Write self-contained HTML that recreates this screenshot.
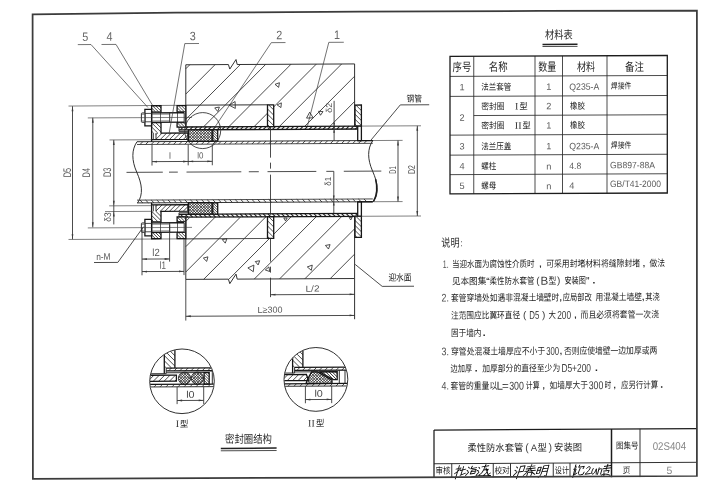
<!DOCTYPE html>
<html lang="zh"><head><meta charset="utf-8"><title>柔性防水套管（A型）安装图 02S404</title>
<style>html,body{margin:0;padding:0;background:#fff;}body{width:706px;height:484px;overflow:hidden;font-family:"Liberation Sans","Noto Sans CJK SC",sans-serif;}svg{display:block;filter:grayscale(1) blur(0.28px);}</style></head>
<body>
<svg width="706" height="484" viewBox="0 0 706 484" font-family="'Liberation Sans', 'Noto Sans CJK SC', sans-serif" shape-rendering="geometricPrecision">
<g transform="matrix(1,-0.005,0,1,0,1)">
<line x1="68.5" y1="105.4" x2="267.5" y2="105.1" stroke="#3c3c3c" stroke-width="0.65"/>
<line x1="68.5" y1="238.8" x2="267.5" y2="238.8" stroke="#3c3c3c" stroke-width="0.65"/>
<path d="M185.8 68.7L189.8 64.7M185.8 94L215.1 64.7M185.8 119.3L240.4 64.7M203.8 126.6L265.7 64.7M229.1 126.6L291 64.7M254.4 126.6L316.3 64.7M279.7 126.6L341.6 64.7M305 126.6L354.6 77M330.3 126.6L354.6 102.3" fill="none" stroke="#2c2c2c" stroke-width="0.85"/>
<path d="M185.8 126.6 L185.8 64.7 L228.4 64.7 L229.8 69.2 L236 59.7 L237.2 64.7 L354.6 64.7 L354.6 126.6" fill="none" stroke="#262626" stroke-width="0.95"/>
<path d="M185.8 221.3L189.7 217.4M185.8 246.6L215 217.4M185.8 271.9L240.3 217.4M203.7 279.3L265.6 217.4M229 279.3L290.9 217.4M254.3 279.3L316.2 217.4M279.6 279.3L341.5 217.4M304.9 279.3L354.6 229.6M330.2 279.3L354.6 254.9" fill="none" stroke="#2c2c2c" stroke-width="0.85"/>
<path d="M185.8 217.4 L185.8 279.3 L228.4 279.3 L229.8 283.8 L236 274.3 L237.2 279.3 L354.6 279.3 L354.6 217.4" fill="none" stroke="#262626" stroke-width="0.95"/>
<line x1="185.8" y1="105.1" x2="267.5" y2="105.1" stroke="#3c3c3c" stroke-width="0.65"/>
<line x1="185.8" y1="238.8" x2="267.5" y2="238.8" stroke="#3c3c3c" stroke-width="0.65"/>
<rect x="137" y="141.4" width="235.8" height="2.8" fill="#fff" stroke="none" stroke-width="0"/>
<path d="M140 144.2L142.8 141.4M145.6 144.2L148.4 141.4M151.2 144.2L154 141.4M156.8 144.2L159.6 141.4M162.4 144.2L165.2 141.4M168 144.2L170.8 141.4M173.6 144.2L176.4 141.4M179.2 144.2L182 141.4M184.8 144.2L187.6 141.4M190.4 144.2L193.2 141.4M196 144.2L198.8 141.4M201.6 144.2L204.4 141.4M207.2 144.2L210 141.4M212.8 144.2L215.6 141.4M218.4 144.2L221.2 141.4M224 144.2L226.8 141.4M229.6 144.2L232.4 141.4M235.2 144.2L238 141.4M240.8 144.2L243.6 141.4M246.4 144.2L249.2 141.4M252 144.2L254.8 141.4M257.6 144.2L260.4 141.4M263.2 144.2L266 141.4M268.8 144.2L271.6 141.4M274.4 144.2L277.2 141.4M280 144.2L282.8 141.4M285.6 144.2L288.4 141.4M291.2 144.2L294 141.4M296.8 144.2L299.6 141.4M302.4 144.2L305.2 141.4M308 144.2L310.8 141.4M313.6 144.2L316.4 141.4M319.2 144.2L322 141.4M324.8 144.2L327.6 141.4M330.4 144.2L333.2 141.4M336 144.2L338.8 141.4M341.6 144.2L344.4 141.4M347.2 144.2L350 141.4M352.8 144.2L355.6 141.4M358.4 144.2L361.2 141.4M364 144.2L366.8 141.4" fill="none" stroke="#2c2c2c" stroke-width="0.9"/>
<line x1="137" y1="141.4" x2="372.8" y2="141.4" stroke="#262626" stroke-width="0.95"/>
<line x1="137" y1="144.2" x2="372.8" y2="144.2" stroke="#2c2c2c" stroke-width="0.85"/>
<rect x="179" y="126.9" width="181.2" height="2.9" fill="#fff" stroke="none" stroke-width="0"/>
<path d="M180.5 129.8L183.4 126.9M185.1 129.8L188 126.9M189.7 129.8L192.6 126.9M194.3 129.8L197.2 126.9M198.9 129.8L201.8 126.9M203.5 129.8L206.4 126.9M208.1 129.8L211 126.9M212.7 129.8L215.6 126.9M217.3 129.8L220.2 126.9M221.9 129.8L224.8 126.9M226.5 129.8L229.4 126.9M231.1 129.8L234 126.9M235.7 129.8L238.6 126.9M240.3 129.8L243.2 126.9M244.9 129.8L247.8 126.9M249.5 129.8L252.4 126.9M254.1 129.8L257 126.9M258.7 129.8L261.6 126.9M263.3 129.8L266.2 126.9M267.9 129.8L270.8 126.9M272.5 129.8L275.4 126.9M277.1 129.8L280 126.9M281.7 129.8L284.6 126.9M286.3 129.8L289.2 126.9M290.9 129.8L293.8 126.9M295.5 129.8L298.4 126.9M300.1 129.8L303 126.9M304.7 129.8L307.6 126.9M309.3 129.8L312.2 126.9M313.9 129.8L316.8 126.9M318.5 129.8L321.4 126.9M323.1 129.8L326 126.9M327.7 129.8L330.6 126.9M332.3 129.8L335.2 126.9M336.9 129.8L339.8 126.9M341.5 129.8L344.4 126.9M346.1 129.8L349 126.9M350.7 129.8L353.6 126.9M355.3 129.8L358.2 126.9" fill="none" stroke="#222" stroke-width="1.1"/>
<line x1="179" y1="126.9" x2="360.2" y2="126.9" stroke="#161616" stroke-width="1.3"/>
<line x1="179" y1="129.8" x2="360.2" y2="129.8" stroke="#161616" stroke-width="1.3"/>
<line x1="179" y1="131.3" x2="188.4" y2="131.3" stroke="#262626" stroke-width="0.95"/>
<line x1="179" y1="126.9" x2="179" y2="131.3" stroke="#262626" stroke-width="0.95"/>
<rect x="177.1" y="105.5" width="8.7" height="21.6" fill="#fff" stroke="none" stroke-width="0"/>
<path d="M177.1 110.6L178.1 111.6M177.1 107.5L181.2 111.6M178.2 105.5L184.3 111.6M181.3 105.5L185.8 110M184.4 105.5L185.8 106.9" fill="none" stroke="#2c2c2c" stroke-width="0.85"/>
<path d="M177.1 125.6L178.6 127.1M177.2 122.6L181.7 127.1M180.3 122.6L184.8 127.1M183.4 122.6L185.8 125" fill="none" stroke="#2c2c2c" stroke-width="0.85"/>
<rect x="177.1" y="105.5" width="8.7" height="21.6" fill="none" stroke="#161616" stroke-width="1.3"/>
<line x1="177.1" y1="111.6" x2="185.8" y2="111.6" stroke="#262626" stroke-width="0.95"/>
<line x1="177.1" y1="122.6" x2="185.8" y2="122.6" stroke="#262626" stroke-width="0.95"/>
<path d="M151.6 105.5 L161 105.5 L161 132.9 L188 132.9 L188 139.3 L151.6 139.3 Z" fill="#fff" stroke="none" stroke-width="0"/>
<path d="M151.6 110.8L152.4 111.6M151.6 107.7L155.5 111.6M152.5 105.5L158.6 111.6M155.6 105.5L161 110.9M158.7 105.5L161 107.8" fill="none" stroke="#2c2c2c" stroke-width="0.85"/>
<path d="M151.6 130.9L153.6 132.9M151.6 126.7L157.8 132.9M151.7 122.6L161 131.9M155.9 122.6L161 127.7M160.1 122.6L161 123.5" fill="none" stroke="#2c2c2c" stroke-width="0.85"/>
<path d="M156 134.4L157.5 132.9M156 139L162.1 132.9M160.3 139.3L166.7 132.9M164.9 139.3L171.3 132.9M169.5 139.3L175.9 132.9M174.1 139.3L180.5 132.9M178.7 139.3L185.1 132.9M183.3 139.3L188 134.6" fill="none" stroke="#2c2c2c" stroke-width="0.85"/>
<path d="M151.6 105.5 L161 105.5 L161 132.9 L188 132.9 L188 139.3 L151.6 139.3 Z" fill="none" stroke="#161616" stroke-width="1.3"/>
<line x1="151.6" y1="139.3" x2="151.6" y2="141.4" stroke="#161616" stroke-width="1.3"/>
<line x1="151.6" y1="111.6" x2="161" y2="111.6" stroke="#262626" stroke-width="0.95"/>
<line x1="151.6" y1="122.6" x2="161" y2="122.6" stroke="#262626" stroke-width="0.95"/>
<line x1="156" y1="139.3" x2="156" y2="132.9" stroke="#262626" stroke-width="0.95"/>
<line x1="153.4" y1="139.3" x2="153.4" y2="132.9" stroke="#2c2c2c" stroke-width="0.85"/>
<rect x="161" y="112.65" width="16.1" height="9.4" fill="#fff" stroke="none" stroke-width="0"/>
<line x1="151.6" y1="122.05" x2="184.2" y2="122.05" stroke="#161616" stroke-width="1.3"/>
<line x1="151.6" y1="112.65" x2="184.2" y2="112.65" stroke="#161616" stroke-width="1.3"/>
<line x1="184.2" y1="122.05" x2="184.2" y2="112.65" stroke="#262626" stroke-width="0.95"/>
<line x1="152.1" y1="120.75" x2="169.7" y2="120.75" stroke="#3c3c3c" stroke-width="0.65"/>
<line x1="152.1" y1="113.95" x2="169.7" y2="113.95" stroke="#3c3c3c" stroke-width="0.65"/>
<line x1="169.7" y1="122.05" x2="169.7" y2="112.65" stroke="#262626" stroke-width="0.95"/>
<rect x="144.9" y="109.05" width="6.7" height="16.6" fill="#fff" stroke="#161616" stroke-width="1.3"/>
<line x1="144.9" y1="121.55" x2="151.6" y2="121.55" stroke="#2c2c2c" stroke-width="0.85"/>
<line x1="144.9" y1="113.15" x2="151.6" y2="113.15" stroke="#2c2c2c" stroke-width="0.85"/>
<rect x="141.4" y="112.65" width="3.5" height="9.4" fill="#fff" stroke="#262626" stroke-width="0.95" rx="0.8"/>
<line x1="141.8" y1="120.75" x2="144.9" y2="120.75" stroke="#3c3c3c" stroke-width="0.65"/>
<line x1="141.8" y1="113.95" x2="144.9" y2="113.95" stroke="#3c3c3c" stroke-width="0.65"/>
<rect x="188.4" y="129.8" width="23.7" height="11.6" fill="#fff" stroke="none" stroke-width="0"/>
<path d="M188.4 130.4L189 129.8M188.4 133.15L191.75 129.8M188.4 135.9L194.5 129.8M188.4 138.65L197.25 129.8M188.4 141.4L200 129.8M191.15 141.4L202.75 129.8M193.9 141.4L205.5 129.8M196.65 141.4L208.25 129.8M199.4 141.4L211 129.8M202.15 141.4L212.1 131.45M204.9 141.4L212.1 134.2M207.65 141.4L212.1 136.95M210.4 141.4L212.1 139.7" fill="none" stroke="#2c2c2c" stroke-width="0.85"/>
<path d="M188.4 140.8L189 141.4M188.4 138.05L191.75 141.4M188.4 135.3L194.5 141.4M188.4 132.55L197.25 141.4M188.4 129.8L200 141.4M191.15 129.8L202.75 141.4M193.9 129.8L205.5 141.4M196.65 129.8L208.25 141.4M199.4 129.8L211 141.4M202.15 129.8L212.1 139.75M204.9 129.8L212.1 137M207.65 129.8L212.1 134.25M210.4 129.8L212.1 131.5" fill="none" stroke="#2c2c2c" stroke-width="0.85"/>
<rect x="188.4" y="129.8" width="23.7" height="11.6" fill="none" stroke="#161616" stroke-width="1.3"/>
<rect x="212.8" y="129.8" width="4.9" height="11.3" fill="#fff" stroke="none" stroke-width="0"/>
<path d="M212.8 140.1L213.8 141.1M212.8 137.5L216.4 141.1M212.8 134.9L217.7 139.8M212.8 132.3L217.7 137.2M212.9 129.8L217.7 134.6M215.5 129.8L217.7 132" fill="none" stroke="#2c2c2c" stroke-width="0.85"/>
<rect x="212.8" y="129.8" width="4.9" height="11.3" fill="none" stroke="#161616" stroke-width="1.3"/>
<rect x="267.5" y="105.3" width="6.2" height="21.6" fill="#fff" stroke="none" stroke-width="0"/>
<path d="M267.5 124.9L269.5 126.9M267.5 119.7L273.7 125.9M267.5 114.5L273.7 120.7M267.5 109.3L273.7 115.5M268.7 105.3L273.7 110.3" fill="none" stroke="#2c2c2c" stroke-width="0.85"/>
<rect x="267.5" y="105.3" width="6.2" height="21.6" fill="none" stroke="#161616" stroke-width="1.3"/>
<rect x="355" y="105.8" width="6.4" height="21.2" fill="#fff" stroke="none" stroke-width="0"/>
<path d="M355 125L357 127M355 120L361.4 126.4M355 115L361.4 121.4M355 110L361.4 116.4M355.8 105.8L361.4 111.4M360.8 105.8L361.4 106.4" fill="none" stroke="#2c2c2c" stroke-width="0.85"/>
<rect x="355" y="105.8" width="6.4" height="21.2" fill="none" stroke="#161616" stroke-width="1.3"/>
<rect x="357.7" y="127" width="3.7" height="14.4" fill="#fff" stroke="#161616" stroke-width="1.3"/>
<line x1="87.8" y1="117.35" x2="192" y2="117.35" stroke="#3c3c3c" stroke-width="0.65"/>
<rect x="137" y="199.8" width="235.8" height="2.8" fill="#fff" stroke="none" stroke-width="0"/>
<path d="M140 199.8L142.8 202.6M145.6 199.8L148.4 202.6M151.2 199.8L154 202.6M156.8 199.8L159.6 202.6M162.4 199.8L165.2 202.6M168 199.8L170.8 202.6M173.6 199.8L176.4 202.6M179.2 199.8L182 202.6M184.8 199.8L187.6 202.6M190.4 199.8L193.2 202.6M196 199.8L198.8 202.6M201.6 199.8L204.4 202.6M207.2 199.8L210 202.6M212.8 199.8L215.6 202.6M218.4 199.8L221.2 202.6M224 199.8L226.8 202.6M229.6 199.8L232.4 202.6M235.2 199.8L238 202.6M240.8 199.8L243.6 202.6M246.4 199.8L249.2 202.6M252 199.8L254.8 202.6M257.6 199.8L260.4 202.6M263.2 199.8L266 202.6M268.8 199.8L271.6 202.6M274.4 199.8L277.2 202.6M280 199.8L282.8 202.6M285.6 199.8L288.4 202.6M291.2 199.8L294 202.6M296.8 199.8L299.6 202.6M302.4 199.8L305.2 202.6M308 199.8L310.8 202.6M313.6 199.8L316.4 202.6M319.2 199.8L322 202.6M324.8 199.8L327.6 202.6M330.4 199.8L333.2 202.6M336 199.8L338.8 202.6M341.6 199.8L344.4 202.6M347.2 199.8L350 202.6M352.8 199.8L355.6 202.6M358.4 199.8L361.2 202.6M364 199.8L366.8 202.6" fill="none" stroke="#2c2c2c" stroke-width="0.9"/>
<line x1="137" y1="202.6" x2="372.8" y2="202.6" stroke="#262626" stroke-width="0.95"/>
<line x1="137" y1="199.8" x2="372.8" y2="199.8" stroke="#2c2c2c" stroke-width="0.85"/>
<rect x="179" y="214.2" width="181.2" height="2.9" fill="#fff" stroke="none" stroke-width="0"/>
<path d="M180.5 214.2L183.4 217.1M185.1 214.2L188 217.1M189.7 214.2L192.6 217.1M194.3 214.2L197.2 217.1M198.9 214.2L201.8 217.1M203.5 214.2L206.4 217.1M208.1 214.2L211 217.1M212.7 214.2L215.6 217.1M217.3 214.2L220.2 217.1M221.9 214.2L224.8 217.1M226.5 214.2L229.4 217.1M231.1 214.2L234 217.1M235.7 214.2L238.6 217.1M240.3 214.2L243.2 217.1M244.9 214.2L247.8 217.1M249.5 214.2L252.4 217.1M254.1 214.2L257 217.1M258.7 214.2L261.6 217.1M263.3 214.2L266.2 217.1M267.9 214.2L270.8 217.1M272.5 214.2L275.4 217.1M277.1 214.2L280 217.1M281.7 214.2L284.6 217.1M286.3 214.2L289.2 217.1M290.9 214.2L293.8 217.1M295.5 214.2L298.4 217.1M300.1 214.2L303 217.1M304.7 214.2L307.6 217.1M309.3 214.2L312.2 217.1M313.9 214.2L316.8 217.1M318.5 214.2L321.4 217.1M323.1 214.2L326 217.1M327.7 214.2L330.6 217.1M332.3 214.2L335.2 217.1M336.9 214.2L339.8 217.1M341.5 214.2L344.4 217.1M346.1 214.2L349 217.1M350.7 214.2L353.6 217.1M355.3 214.2L358.2 217.1" fill="none" stroke="#222" stroke-width="1.1"/>
<line x1="179" y1="217.1" x2="360.2" y2="217.1" stroke="#161616" stroke-width="1.3"/>
<line x1="179" y1="214.2" x2="360.2" y2="214.2" stroke="#161616" stroke-width="1.3"/>
<line x1="179" y1="212.7" x2="188.4" y2="212.7" stroke="#262626" stroke-width="0.95"/>
<line x1="179" y1="217.1" x2="179" y2="212.7" stroke="#262626" stroke-width="0.95"/>
<rect x="177.1" y="216.9" width="8.7" height="21.6" fill="#fff" stroke="none" stroke-width="0"/>
<path d="M177.1 237.5L178.1 238.5M177.1 234.4L181.2 238.5M178.2 232.4L184.3 238.5M181.3 232.4L185.8 236.9M184.4 232.4L185.8 233.8" fill="none" stroke="#2c2c2c" stroke-width="0.85"/>
<path d="M177.1 219.9L178.6 221.4M177.2 216.9L181.7 221.4M180.3 216.9L184.8 221.4M183.4 216.9L185.8 219.3" fill="none" stroke="#2c2c2c" stroke-width="0.85"/>
<rect x="177.1" y="216.9" width="8.7" height="21.6" fill="none" stroke="#161616" stroke-width="1.3"/>
<line x1="177.1" y1="232.4" x2="185.8" y2="232.4" stroke="#262626" stroke-width="0.95"/>
<line x1="177.1" y1="221.4" x2="185.8" y2="221.4" stroke="#262626" stroke-width="0.95"/>
<path d="M151.6 238.5 L161 238.5 L161 211.1 L188 211.1 L188 204.7 L151.6 204.7 Z" fill="#fff" stroke="none" stroke-width="0"/>
<path d="M151.6 237.7L152.4 238.5M151.6 234.6L155.5 238.5M152.5 232.4L158.6 238.5M155.6 232.4L161 237.8M158.7 232.4L161 234.7" fill="none" stroke="#2c2c2c" stroke-width="0.85"/>
<path d="M151.6 219.4L153.6 221.4M151.6 215.2L157.8 221.4M151.7 211.1L161 220.4M155.9 211.1L161 216.2M160.1 211.1L161 212" fill="none" stroke="#2c2c2c" stroke-width="0.85"/>
<path d="M156 206.2L157.5 204.7M156 210.8L162.1 204.7M160.3 211.1L166.7 204.7M164.9 211.1L171.3 204.7M169.5 211.1L175.9 204.7M174.1 211.1L180.5 204.7M178.7 211.1L185.1 204.7M183.3 211.1L188 206.4" fill="none" stroke="#2c2c2c" stroke-width="0.85"/>
<path d="M151.6 238.5 L161 238.5 L161 211.1 L188 211.1 L188 204.7 L151.6 204.7 Z" fill="none" stroke="#161616" stroke-width="1.3"/>
<line x1="151.6" y1="204.7" x2="151.6" y2="202.6" stroke="#161616" stroke-width="1.3"/>
<line x1="151.6" y1="232.4" x2="161" y2="232.4" stroke="#262626" stroke-width="0.95"/>
<line x1="151.6" y1="221.4" x2="161" y2="221.4" stroke="#262626" stroke-width="0.95"/>
<line x1="156" y1="204.7" x2="156" y2="211.1" stroke="#262626" stroke-width="0.95"/>
<line x1="153.4" y1="204.7" x2="153.4" y2="211.1" stroke="#2c2c2c" stroke-width="0.85"/>
<rect x="161" y="222.65" width="16.1" height="9.4" fill="#fff" stroke="none" stroke-width="0"/>
<line x1="151.6" y1="222.65" x2="184.2" y2="222.65" stroke="#161616" stroke-width="1.3"/>
<line x1="151.6" y1="232.05" x2="184.2" y2="232.05" stroke="#161616" stroke-width="1.3"/>
<line x1="184.2" y1="222.65" x2="184.2" y2="232.05" stroke="#262626" stroke-width="0.95"/>
<line x1="152.1" y1="223.95" x2="169.7" y2="223.95" stroke="#3c3c3c" stroke-width="0.65"/>
<line x1="152.1" y1="230.75" x2="169.7" y2="230.75" stroke="#3c3c3c" stroke-width="0.65"/>
<line x1="169.7" y1="222.65" x2="169.7" y2="232.05" stroke="#262626" stroke-width="0.95"/>
<rect x="144.9" y="219.05" width="6.7" height="16.6" fill="#fff" stroke="#161616" stroke-width="1.3"/>
<line x1="144.9" y1="223.15" x2="151.6" y2="223.15" stroke="#2c2c2c" stroke-width="0.85"/>
<line x1="144.9" y1="231.55" x2="151.6" y2="231.55" stroke="#2c2c2c" stroke-width="0.85"/>
<rect x="141.4" y="222.65" width="3.5" height="9.4" fill="#fff" stroke="#262626" stroke-width="0.95" rx="0.8"/>
<line x1="141.8" y1="223.95" x2="144.9" y2="223.95" stroke="#3c3c3c" stroke-width="0.65"/>
<line x1="141.8" y1="230.75" x2="144.9" y2="230.75" stroke="#3c3c3c" stroke-width="0.65"/>
<rect x="188.4" y="202.6" width="23.7" height="11.6" fill="#fff" stroke="none" stroke-width="0"/>
<path d="M188.4 203.2L189 202.6M188.4 205.95L191.75 202.6M188.4 208.7L194.5 202.6M188.4 211.45L197.25 202.6M188.4 214.2L200 202.6M191.15 214.2L202.75 202.6M193.9 214.2L205.5 202.6M196.65 214.2L208.25 202.6M199.4 214.2L211 202.6M202.15 214.2L212.1 204.25M204.9 214.2L212.1 207M207.65 214.2L212.1 209.75M210.4 214.2L212.1 212.5" fill="none" stroke="#2c2c2c" stroke-width="0.85"/>
<path d="M188.4 213.6L189 214.2M188.4 210.85L191.75 214.2M188.4 208.1L194.5 214.2M188.4 205.35L197.25 214.2M188.4 202.6L200 214.2M191.15 202.6L202.75 214.2M193.9 202.6L205.5 214.2M196.65 202.6L208.25 214.2M199.4 202.6L211 214.2M202.15 202.6L212.1 212.55M204.9 202.6L212.1 209.8M207.65 202.6L212.1 207.05M210.4 202.6L212.1 204.3" fill="none" stroke="#2c2c2c" stroke-width="0.85"/>
<rect x="188.4" y="202.6" width="23.7" height="11.6" fill="none" stroke="#161616" stroke-width="1.3"/>
<rect x="212.8" y="202.9" width="4.9" height="11.3" fill="#fff" stroke="none" stroke-width="0"/>
<path d="M212.8 213.2L213.8 214.2M212.8 210.6L216.4 214.2M212.8 208L217.7 212.9M212.8 205.4L217.7 210.3M212.9 202.9L217.7 207.7M215.5 202.9L217.7 205.1" fill="none" stroke="#2c2c2c" stroke-width="0.85"/>
<rect x="212.8" y="202.9" width="4.9" height="11.3" fill="none" stroke="#161616" stroke-width="1.3"/>
<rect x="267.5" y="217.1" width="6.2" height="21.6" fill="#fff" stroke="none" stroke-width="0"/>
<path d="M267.5 236.7L269.5 238.7M267.5 231.5L273.7 237.7M267.5 226.3L273.7 232.5M267.5 221.1L273.7 227.3M268.7 217.1L273.7 222.1" fill="none" stroke="#2c2c2c" stroke-width="0.85"/>
<rect x="267.5" y="217.1" width="6.2" height="21.6" fill="none" stroke="#161616" stroke-width="1.3"/>
<rect x="355" y="217" width="6.4" height="21.2" fill="#fff" stroke="none" stroke-width="0"/>
<path d="M355 236.2L357 238.2M355 231.2L361.4 237.6M355 226.2L361.4 232.6M355 221.2L361.4 227.6M355.8 217L361.4 222.6M360.8 217L361.4 217.6" fill="none" stroke="#2c2c2c" stroke-width="0.85"/>
<rect x="355" y="217" width="6.4" height="21.2" fill="none" stroke="#161616" stroke-width="1.3"/>
<rect x="357.7" y="202.6" width="3.7" height="14.4" fill="#fff" stroke="#161616" stroke-width="1.3"/>
<line x1="87.8" y1="227.35" x2="192" y2="227.35" stroke="#3c3c3c" stroke-width="0.65"/>
<path d="M137 141.4 C131.5 149.5 131.5 160 136.8 172 S143.5 194 137.6 202.6" fill="none" stroke="#262626" stroke-width="0.95"/>
<path d="M372.8 141.4 C367.3 149.5 367.3 160 372.6 172 S379.3 194 373.4 202.6" fill="none" stroke="#262626" stroke-width="0.95"/>
<path d="M375.6 180 C377.6 188 377.2 196 373.4 202.6" fill="none" stroke="#1c1c1c" stroke-width="1.5"/>
<line x1="357.7" y1="141.4" x2="372.8" y2="141.4" stroke="#161616" stroke-width="1.3"/>
<line x1="357.7" y1="202.6" x2="372.8" y2="202.6" stroke="#161616" stroke-width="1.3"/>
<line x1="126.5" y1="172" x2="162.8" y2="172" stroke="#2c2c2c" stroke-width="0.85"/>
<line x1="169" y1="172" x2="177.8" y2="172" stroke="#2c2c2c" stroke-width="0.85"/>
<line x1="186.5" y1="172" x2="241.3" y2="172" stroke="#2c2c2c" stroke-width="0.85"/>
<line x1="248.8" y1="172" x2="258.8" y2="172" stroke="#2c2c2c" stroke-width="0.85"/>
<line x1="267.5" y1="172" x2="316.3" y2="172" stroke="#2c2c2c" stroke-width="0.85"/>
<line x1="326.3" y1="172" x2="333.8" y2="172" stroke="#2c2c2c" stroke-width="0.85"/>
<line x1="343.8" y1="172" x2="381.3" y2="172" stroke="#2c2c2c" stroke-width="0.85"/>
<line x1="270.5" y1="127" x2="270.5" y2="158" stroke="#2c2c2c" stroke-width="0.85"/>
<line x1="270.5" y1="163" x2="270.5" y2="169" stroke="#2c2c2c" stroke-width="0.85"/>
<line x1="270.5" y1="175" x2="270.5" y2="215" stroke="#2c2c2c" stroke-width="0.85"/>
<line x1="270.5" y1="239" x2="270.5" y2="262" stroke="#2c2c2c" stroke-width="0.85"/>
<line x1="270.5" y1="267" x2="270.5" y2="273" stroke="#2c2c2c" stroke-width="0.85"/>
<line x1="270.5" y1="278" x2="270.5" y2="297.5" stroke="#2c2c2c" stroke-width="0.85"/>
<circle cx="202.7" cy="130.6" r="18" fill="none" stroke="#2c2c2c" stroke-width="0.85"/>
<line x1="77.8" y1="44" x2="91" y2="44" stroke="#3c3c3c" stroke-width="0.72"/>
<line x1="91" y1="44" x2="147.9" y2="107.2" stroke="#3c3c3c" stroke-width="0.72"/>
<text x="85.2" y="40.4" font-size="12.2" fill="#666" text-anchor="middle" textLength="6" lengthAdjust="spacingAndGlyphs">5</text>
<line x1="101.5" y1="44" x2="116" y2="44" stroke="#3c3c3c" stroke-width="0.72"/>
<line x1="116" y1="44" x2="152.6" y2="105.2" stroke="#3c3c3c" stroke-width="0.72"/>
<text x="109.55" y="40.4" font-size="12.2" fill="#666" text-anchor="middle" textLength="6" lengthAdjust="spacingAndGlyphs">4</text>
<line x1="184.8" y1="43.5" x2="199" y2="43.5" stroke="#3c3c3c" stroke-width="0.72"/>
<line x1="184.8" y1="43.5" x2="169" y2="134" stroke="#3c3c3c" stroke-width="0.72"/>
<text x="192.7" y="40.2" font-size="12.2" fill="#666" text-anchor="middle" textLength="6" lengthAdjust="spacingAndGlyphs">3</text>
<line x1="271.3" y1="43" x2="285.5" y2="43" stroke="#3c3c3c" stroke-width="0.72"/>
<line x1="271.3" y1="43" x2="215" y2="127" stroke="#3c3c3c" stroke-width="0.72"/>
<text x="279.2" y="39.7" font-size="12.2" fill="#666" text-anchor="middle" textLength="6" lengthAdjust="spacingAndGlyphs">2</text>
<line x1="328.8" y1="43" x2="343.8" y2="43" stroke="#3c3c3c" stroke-width="0.72"/>
<line x1="328.8" y1="43" x2="307.5" y2="126.3" stroke="#3c3c3c" stroke-width="0.72"/>
<text x="337.1" y="39.7" font-size="12.2" fill="#666" text-anchor="middle" textLength="6" lengthAdjust="spacingAndGlyphs">1</text>
<path d="M214.74 107.97 L219.38 107.15 L217.77 111.58 Z" fill="none" stroke="#2c2c2c" stroke-width="0.85"/>
<path d="M229.2 105.34 L235.08 101.67 L235.32 108.59 Z" fill="none" stroke="#2c2c2c" stroke-width="0.85"/>
<path d="M275.02 84.73 L279.45 83.12 L278.63 87.76 Z" fill="none" stroke="#2c2c2c" stroke-width="0.85"/>
<path d="M277.09 105.26 L281.36 103.27 L280.95 107.97 Z" fill="none" stroke="#2c2c2c" stroke-width="0.85"/>
<path d="M309.67 112.76 L313.19 118.4 L306.54 118.63 Z" fill="none" stroke="#2c2c2c" stroke-width="0.85"/>
<path d="M318.6 111.83 L323.02 112.22 L320.48 115.85 Z" fill="none" stroke="#2c2c2c" stroke-width="0.85"/>
<path d="M222.24 239.67 L226.88 238.85 L225.27 243.28 Z" fill="none" stroke="#2c2c2c" stroke-width="0.85"/>
<path d="M203.37 258.1 L207.92 256.88 L206.7 261.43 Z" fill="none" stroke="#2c2c2c" stroke-width="0.85"/>
<path d="M247.87 268.17 L253.9 265.35 L253.32 271.98 Z" fill="none" stroke="#2c2c2c" stroke-width="0.85"/>
<path d="M255.29 261.82 L259.66 261.05 L258.14 265.22 Z" fill="none" stroke="#2c2c2c" stroke-width="0.85"/>
<path d="M265.32 270.27 L268.93 267.24 L269.75 271.88 Z" fill="none" stroke="#2c2c2c" stroke-width="0.85"/>
<path d="M307.31 267.47 L312.25 265.67 L311.34 270.86 Z" fill="none" stroke="#2c2c2c" stroke-width="0.85"/>
<path d="M325.44 246.07 L330.08 245.25 L328.47 249.68 Z" fill="none" stroke="#2c2c2c" stroke-width="0.85"/>
<path d="M285.5 221.32 L283.84 218.44 L287.16 218.44 Z" fill="none" stroke="#2c2c2c" stroke-width="0.85"/>
<path d="M350.7 220.76 L349.18 218.12 L352.22 218.12 Z" fill="none" stroke="#2c2c2c" stroke-width="0.85"/>
<line x1="72.5" y1="105.6" x2="72.5" y2="238.6" stroke="#2c2c2c" stroke-width="0.85"/>
<polygon points="72.5,105.6 73.4,110.6 71.6,110.6" fill="#3a3a3a"/>
<polygon points="72.5,238.6 71.6,233.6 73.4,233.6" fill="#3a3a3a"/>
<line x1="92.8" y1="117.2" x2="92.8" y2="226.8" stroke="#2c2c2c" stroke-width="0.85"/>
<polygon points="92.8,117.2 93.7,122.2 91.9,122.2" fill="#3a3a3a"/>
<polygon points="92.8,226.8 91.9,221.8 93.7,221.8" fill="#3a3a3a"/>
<line x1="113.8" y1="139.5" x2="113.8" y2="205.4" stroke="#2c2c2c" stroke-width="0.85"/>
<polygon points="113.8,139.5 114.7,144.5 112.9,144.5" fill="#3a3a3a"/>
<polygon points="113.8,205.4 112.9,200.4 114.7,200.4" fill="#3a3a3a"/>
<line x1="109.5" y1="139.5" x2="151.6" y2="139.5" stroke="#3c3c3c" stroke-width="0.65"/>
<line x1="109.2" y1="205.4" x2="151.6" y2="205.4" stroke="#3c3c3c" stroke-width="0.65"/>
<line x1="105" y1="211.1" x2="151.6" y2="211.1" stroke="#3c3c3c" stroke-width="0.65"/>
<line x1="113.8" y1="205.4" x2="113.8" y2="224" stroke="#2c2c2c" stroke-width="0.85"/>
<polygon points="113.8,211.1 114.7,216.1 112.9,216.1" fill="#3a3a3a"/>
<text x="71" y="171.9" font-size="11" fill="#555" text-anchor="middle" transform="rotate(-90 71 171.9)" textLength="9.4" lengthAdjust="spacingAndGlyphs">D5</text>
<text x="90.3" y="172.1" font-size="11" fill="#555" text-anchor="middle" transform="rotate(-90 90.3 172.1)" textLength="9" lengthAdjust="spacingAndGlyphs">D4</text>
<text x="111.5" y="171.9" font-size="11" fill="#555" text-anchor="middle" transform="rotate(-90 111.5 171.9)" textLength="9.4" lengthAdjust="spacingAndGlyphs">D3</text>
<text x="111.3" y="216.6" font-size="9.6" fill="#555" text-anchor="middle" transform="rotate(-90 111.3 216.6)" textLength="9.4" lengthAdjust="spacingAndGlyphs">δ3</text>
<line x1="152" y1="144.5" x2="152" y2="165.3" stroke="#2c2c2c" stroke-width="0.85"/>
<line x1="188.2" y1="144.5" x2="188.2" y2="165.3" stroke="#2c2c2c" stroke-width="0.85"/>
<line x1="212.3" y1="144.5" x2="212.3" y2="165.3" stroke="#2c2c2c" stroke-width="0.85"/>
<line x1="152" y1="161.4" x2="212.3" y2="161.4" stroke="#2c2c2c" stroke-width="0.85"/>
<polygon points="152,161.4 157,160.5 157,162.3" fill="#3a3a3a"/>
<polygon points="188.2,161.4 183.2,162.3 183.2,160.5" fill="#3a3a3a"/>
<polygon points="188.2,161.4 193.2,160.5 193.2,162.3" fill="#3a3a3a"/>
<polygon points="212.3,161.4 207.3,162.3 207.3,160.5" fill="#3a3a3a"/>
<text x="170" y="158.6" font-size="8.8" fill="#5a5a5a" text-anchor="middle">l</text>
<text x="200.3" y="158.6" font-size="8.8" fill="#5a5a5a" text-anchor="middle" textLength="6.2" lengthAdjust="spacingAndGlyphs">l0</text>
<line x1="142" y1="227.5" x2="142" y2="275" stroke="#2c2c2c" stroke-width="0.85"/>
<line x1="169.6" y1="225" x2="169.6" y2="261.5" stroke="#2c2c2c" stroke-width="0.85"/>
<line x1="184" y1="239" x2="184" y2="275" stroke="#2c2c2c" stroke-width="0.85"/>
<line x1="142" y1="258.8" x2="169.6" y2="258.8" stroke="#2c2c2c" stroke-width="0.85"/>
<polygon points="142,258.8 147,257.9 147,259.7" fill="#3a3a3a"/>
<polygon points="169.6,258.8 164.6,259.7 164.6,257.9" fill="#3a3a3a"/>
<line x1="142" y1="271.3" x2="184" y2="271.3" stroke="#2c2c2c" stroke-width="0.85"/>
<polygon points="142,271.3 147,270.4 147,272.2" fill="#3a3a3a"/>
<polygon points="184,271.3 179,272.2 179,270.4" fill="#3a3a3a"/>
<text x="156" y="255.8" font-size="10.4" fill="#555" text-anchor="middle" textLength="7.4" lengthAdjust="spacingAndGlyphs">l2</text>
<text x="162.8" y="268.6" font-size="10.4" fill="#555" text-anchor="middle" textLength="6.2" lengthAdjust="spacingAndGlyphs">l1</text>
<line x1="94" y1="262" x2="117.8" y2="262" stroke="#2c2c2c" stroke-width="0.85"/>
<line x1="117.8" y1="262" x2="143.6" y2="226.4" stroke="#2c2c2c" stroke-width="0.85"/>
<text x="103.4" y="259.4" font-size="9.6" fill="#555" text-anchor="middle" textLength="14.4" lengthAdjust="spacingAndGlyphs">n-M</text>
<line x1="334.1" y1="101.5" x2="334.1" y2="141.3" stroke="#2c2c2c" stroke-width="0.85"/>
<polygon points="334.1,126.9 333.2,123.3 335,123.3" fill="#3a3a3a"/>
<polygon points="334.1,129.8 335,133.4 333.2,133.4" fill="#3a3a3a"/>
<text x="332.2" y="108.5" font-size="8.6" fill="#555" text-anchor="middle" transform="rotate(-90 332.2 108.5)" textLength="10" lengthAdjust="spacingAndGlyphs">δ2</text>
<line x1="333.8" y1="172" x2="333.8" y2="214" stroke="#2c2c2c" stroke-width="0.85"/>
<polygon points="333.8,199.8 332.9,196.2 334.7,196.2" fill="#3a3a3a"/>
<polygon points="333.8,202.6 334.7,206.2 332.9,206.2" fill="#3a3a3a"/>
<text x="331.4" y="182" font-size="8.8" fill="#555" text-anchor="middle" transform="rotate(-90 331.4 182)" textLength="8.8" lengthAdjust="spacingAndGlyphs">δ1</text>
<line x1="373" y1="141.4" x2="402.6" y2="141.4" stroke="#3c3c3c" stroke-width="0.65"/>
<line x1="373.6" y1="202.6" x2="402.6" y2="202.6" stroke="#3c3c3c" stroke-width="0.65"/>
<line x1="398" y1="141.4" x2="398" y2="202.6" stroke="#2c2c2c" stroke-width="0.85"/>
<polygon points="398,141.4 398.9,146.4 397.1,146.4" fill="#3a3a3a"/>
<polygon points="398,202.6 397.1,197.6 398.9,197.6" fill="#3a3a3a"/>
<line x1="361.4" y1="126.9" x2="421" y2="126.9" stroke="#3c3c3c" stroke-width="0.65"/>
<line x1="361.4" y1="217.1" x2="421" y2="217.1" stroke="#3c3c3c" stroke-width="0.65"/>
<line x1="417.3" y1="126.9" x2="417.3" y2="217.1" stroke="#2c2c2c" stroke-width="0.85"/>
<polygon points="417.3,126.9 418.2,131.9 416.4,131.9" fill="#3a3a3a"/>
<polygon points="417.3,217.1 416.4,212.1 418.2,212.1" fill="#3a3a3a"/>
<text x="395.6" y="171" font-size="10" fill="#555" text-anchor="middle" transform="rotate(-90 395.6 171)" textLength="7.4" lengthAdjust="spacingAndGlyphs">D1</text>
<text x="414.8" y="170.6" font-size="10" fill="#555" text-anchor="middle" transform="rotate(-90 414.8 170.6)" textLength="9" lengthAdjust="spacingAndGlyphs">D2</text>
<line x1="185.8" y1="279.3" x2="185.8" y2="320.5" stroke="#2c2c2c" stroke-width="0.85"/>
<line x1="354.6" y1="279.3" x2="354.6" y2="320" stroke="#262626" stroke-width="0.95"/>
<line x1="270.5" y1="295.1" x2="354.6" y2="295.1" stroke="#2c2c2c" stroke-width="0.85"/>
<polygon points="270.5,295.1 275.5,294.2 275.5,296" fill="#3a3a3a"/>
<polygon points="354.6,295.1 349.6,296 349.6,294.2" fill="#3a3a3a"/>
<line x1="185.8" y1="316.2" x2="354.6" y2="316.2" stroke="#2c2c2c" stroke-width="0.85"/>
<polygon points="185.8,316.2 190.8,315.3 190.8,317.1" fill="#3a3a3a"/>
<polygon points="354.6,316.2 349.6,317.1 349.6,315.3" fill="#3a3a3a"/>
<text x="312.5" y="292.2" font-size="8.8" fill="#5a5a5a" text-anchor="middle" textLength="14" lengthAdjust="spacingAndGlyphs">L/2</text>
<text x="270" y="313.2" font-size="8.8" fill="#5a5a5a" text-anchor="middle" textLength="25" lengthAdjust="spacingAndGlyphs">L≥300</text>
<line x1="370.5" y1="141.5" x2="400.3" y2="105.9" stroke="#2c2c2c" stroke-width="0.85"/>
<line x1="400.3" y1="105.9" x2="429.2" y2="105.9" stroke="#2c2c2c" stroke-width="0.85"/>
<text x="406.5" y="102.77" font-size="8.8" fill="#202020" textLength="15.5" lengthAdjust="spacingAndGlyphs">钢管</text>
<line x1="355.2" y1="265.2" x2="382.2" y2="287.3" stroke="#2c2c2c" stroke-width="0.85"/>
<line x1="382.2" y1="287.3" x2="414" y2="287.3" stroke="#2c2c2c" stroke-width="0.85"/>
<text x="388.4" y="281.71" font-size="9.2" fill="#202020" textLength="23" lengthAdjust="spacingAndGlyphs">迎水面</text>
</g>
<g transform="matrix(1,-0.005,0,1,0,1.2)">
<clipPath id="c1"><circle cx="182" cy="381" r="32"/></clipPath>
<g clip-path="url(#c1)">
<rect x="164.3" y="340" width="10.6" height="27.6" fill="#fff" stroke="none" stroke-width="0"/>
<path d="M164.3 365.6L166.3 367.6M164.3 360.4L171.5 367.6M164.3 355.2L174.9 365.8M164.3 350L174.9 360.6M164.3 344.8L174.9 355.4M164.7 340L174.9 350.2M169.9 340L174.9 345" fill="none" stroke="#2c2c2c" stroke-width="0.85"/>
<line x1="164.3" y1="345" x2="164.3" y2="373.4" stroke="#161616" stroke-width="1.3"/>
<line x1="174.9" y1="345" x2="174.9" y2="367.6" stroke="#161616" stroke-width="1.3"/>
<path d="M168.5 370.6L171.4 367.7M174.1 370.6L177 367.7M179.7 370.6L182.6 367.7M185.3 370.6L188.2 367.7M190.9 370.6L193.8 367.7M196.5 370.6L199.4 367.7M202.1 370.6L205 367.7M207.7 370.6L210.6 367.7" fill="none" stroke="#2c2c2c" stroke-width="0.85"/>
<line x1="166.2" y1="367.7" x2="216" y2="367.7" stroke="#161616" stroke-width="1.3"/>
<line x1="166.2" y1="370.6" x2="216" y2="370.6" stroke="#161616" stroke-width="1.3"/>
<line x1="166.2" y1="367.7" x2="166.2" y2="373.3" stroke="#262626" stroke-width="0.95"/>
<line x1="148" y1="373.3" x2="166.2" y2="373.3" stroke="#262626" stroke-width="0.95"/>
<line x1="166.2" y1="372.4" x2="204.1" y2="372.4" stroke="#262626" stroke-width="0.95"/>
<rect x="146" y="374.8" width="30.4" height="6.1" fill="#fff" stroke="none" stroke-width="0"/>
<path d="M146 377.3L148.5 374.8M147.8 380.9L153.9 374.8M153.2 380.9L159.3 374.8M158.6 380.9L164.7 374.8M164 380.9L170.1 374.8M169.4 380.9L175.5 374.8M174.8 380.9L176.4 379.3" fill="none" stroke="#2c2c2c" stroke-width="0.85"/>
<rect x="146" y="374.8" width="30.4" height="6.1" fill="none" stroke="#161616" stroke-width="1.3"/>
<clipPath id="o184"><circle cx="184.5" cy="378.0" r="6.1"/></clipPath>
<g clip-path="url(#o184)">
<path d="M178.5 372.3L178.9 371.9M178.5 375L181.6 371.9M178.5 377.7L184.3 371.9M178.5 380.4L187 371.9M178.5 383.1L189.7 371.9M180.4 383.9L190.5 373.8M183.1 383.9L190.5 376.5M185.8 383.9L190.5 379.2M188.5 383.9L190.5 381.9" fill="none" stroke="#2c2c2c" stroke-width="0.85"/>
<path d="M178.5 383.5L178.9 383.9M178.5 380.8L181.6 383.9M178.5 378.1L184.3 383.9M178.5 375.4L187 383.9M178.5 372.7L189.7 383.9M180.4 371.9L190.5 382M183.1 371.9L190.5 379.3M185.8 371.9L190.5 376.6M188.5 371.9L190.5 373.9" fill="none" stroke="#2c2c2c" stroke-width="0.85"/>
</g>
<circle cx="184.5" cy="378" r="6.1" fill="none" stroke="#262626" stroke-width="0.95"/>
<clipPath id="o197"><circle cx="197.4" cy="378.0" r="6.1"/></clipPath>
<g clip-path="url(#o197)">
<path d="M191.4 372.3L191.8 371.9M191.4 375L194.5 371.9M191.4 377.7L197.2 371.9M191.4 380.4L199.9 371.9M191.4 383.1L202.6 371.9M193.3 383.9L203.4 373.8M196 383.9L203.4 376.5M198.7 383.9L203.4 379.2M201.4 383.9L203.4 381.9" fill="none" stroke="#2c2c2c" stroke-width="0.85"/>
<path d="M191.4 383.5L191.8 383.9M191.4 380.8L194.5 383.9M191.4 378.1L197.2 383.9M191.4 375.4L199.9 383.9M191.4 372.7L202.6 383.9M193.3 371.9L203.4 382M196 371.9L203.4 379.3M198.7 371.9L203.4 376.6M201.4 371.9L203.4 373.9" fill="none" stroke="#2c2c2c" stroke-width="0.85"/>
</g>
<circle cx="197.4" cy="378" r="6.1" fill="none" stroke="#262626" stroke-width="0.95"/>
<rect x="204.1" y="372.4" width="5.1" height="11.5" fill="#fff" stroke="none" stroke-width="0"/>
<path d="M204.1 382.9L205.1 383.9M204.1 380.1L207.9 383.9M204.1 377.3L209.2 382.4M204.1 374.5L209.2 379.6M204.8 372.4L209.2 376.8M207.6 372.4L209.2 374" fill="none" stroke="#2c2c2c" stroke-width="0.85"/>
<rect x="204.1" y="372.4" width="5.1" height="11.5" fill="none" stroke="#161616" stroke-width="1.3"/>
<line x1="212.3" y1="370.6" x2="212.3" y2="383.9" stroke="#262626" stroke-width="0.95"/>
<path d="M148 386.5L150.4 384.1M154 386.5L156.4 384.1M160 386.5L162.4 384.1M166 386.5L168.4 384.1M172 386.5L174.4 384.1M178 386.5L180.4 384.1M184 386.5L186.4 384.1M190 386.5L192.4 384.1M196 386.5L198.4 384.1M202 386.5L204.4 384.1M208 386.5L210.4 384.1" fill="none" stroke="#2c2c2c" stroke-width="0.85"/>
<line x1="146" y1="384" x2="216" y2="384" stroke="#161616" stroke-width="1.3"/>
<line x1="146" y1="386.5" x2="216" y2="386.5" stroke="#262626" stroke-width="0.95"/>
</g>
<circle cx="182" cy="381" r="32.3" fill="none" stroke="#262626" stroke-width="0.95"/>
<line x1="177.1" y1="386.5" x2="177.1" y2="403.8" stroke="#2c2c2c" stroke-width="0.85"/>
<line x1="203.7" y1="386.5" x2="203.7" y2="403.8" stroke="#2c2c2c" stroke-width="0.85"/>
<line x1="177.1" y1="400.2" x2="203.7" y2="400.2" stroke="#2c2c2c" stroke-width="0.85"/>
<polygon points="177.1,400.2 182.1,399.3 182.1,401.1" fill="#3a3a3a"/>
<polygon points="203.7,400.2 198.7,401.1 198.7,399.3" fill="#3a3a3a"/>
<text x="190.4" y="397.6" font-size="9.6" fill="#4a4a4a" text-anchor="middle" textLength="8.4" lengthAdjust="spacingAndGlyphs">l0</text>
<clipPath id="c2"><circle cx="315.9" cy="379.8" r="31.6"/></clipPath>
<g clip-path="url(#c2)">
<rect x="292.6" y="340" width="10.3" height="27.6" fill="#fff" stroke="none" stroke-width="0"/>
<path d="M292.6 365.6L294.6 367.6M292.6 360.4L299.8 367.6M292.6 355.2L302.9 365.5M292.6 350L302.9 360.3M292.6 344.8L302.9 355.1M293 340L302.9 349.9M298.2 340L302.9 344.7" fill="none" stroke="#2c2c2c" stroke-width="0.85"/>
<line x1="292.6" y1="345" x2="292.6" y2="373.4" stroke="#161616" stroke-width="1.3"/>
<line x1="302.9" y1="345" x2="302.9" y2="367.6" stroke="#161616" stroke-width="1.3"/>
<path d="M297 370.6L299.9 367.7M302.6 370.6L305.5 367.7M308.2 370.6L311.1 367.7M313.8 370.6L316.7 367.7M319.4 370.6L322.3 367.7M325 370.6L327.9 367.7M330.6 370.6L333.5 367.7M336.2 370.6L339.1 367.7M341.8 370.6L344.7 367.7" fill="none" stroke="#2c2c2c" stroke-width="0.85"/>
<line x1="294.6" y1="367.7" x2="350" y2="367.7" stroke="#161616" stroke-width="1.3"/>
<line x1="294.6" y1="370.6" x2="350" y2="370.6" stroke="#161616" stroke-width="1.3"/>
<line x1="294.6" y1="367.7" x2="294.6" y2="373.3" stroke="#262626" stroke-width="0.95"/>
<line x1="282" y1="373.3" x2="294.6" y2="373.3" stroke="#262626" stroke-width="0.95"/>
<line x1="294.6" y1="372.2" x2="337.2" y2="372.2" stroke="#262626" stroke-width="0.95"/>
<clipPath id="g2"><path d="M280 374.8 L306.4 374.8 L308.6 380.9 L280 380.9 Z"/></clipPath>
<g clip-path="url(#g2)">
<rect x="280" y="374.8" width="29" height="6.1" fill="#fff" stroke="none" stroke-width="0"/>
<path d="M280 377.3L282.5 374.8M281.8 380.9L287.9 374.8M287.2 380.9L293.3 374.8M292.6 380.9L298.7 374.8M298 380.9L304.1 374.8M303.4 380.9L309 375.3" fill="none" stroke="#2c2c2c" stroke-width="0.85"/>
</g>
<path d="M280 374.8 L306.4 374.8 L308.6 380.9 L280 380.9" fill="none" stroke="#161616" stroke-width="1.3"/>
<clipPath id="w2"><path d="M311.6 372.2 L317.4 372.2 L332 380.6 L332 383.9 L306 383.9 L307.4 379.9 Z"/></clipPath>
<g clip-path="url(#w2)">
<path d="M305 371.9L305.4 371.5M305 374.7L308.2 371.5M305 377.5L311 371.5M305 380.3L313.8 371.5M305 383.1L316.6 371.5M306.4 384.5L319.4 371.5M309.2 384.5L322.2 371.5M312 384.5L325 371.5M314.8 384.5L327.8 371.5M317.6 384.5L330.6 371.5M320.4 384.5L333 371.9M323.2 384.5L333 374.7M326 384.5L333 377.5M328.8 384.5L333 380.3M331.6 384.5L333 383.1" fill="none" stroke="#2c2c2c" stroke-width="0.85"/>
<path d="M305 384.1L305.4 384.5M305 381.3L308.2 384.5M305 378.5L311 384.5M305 375.7L313.8 384.5M305 372.9L316.6 384.5M306.4 371.5L319.4 384.5M309.2 371.5L322.2 384.5M312 371.5L325 384.5M314.8 371.5L327.8 384.5M317.6 371.5L330.6 384.5M320.4 371.5L333 384.1M323.2 371.5L333 381.3M326 371.5L333 378.5M328.8 371.5L333 375.7M331.6 371.5L333 372.9" fill="none" stroke="#2c2c2c" stroke-width="0.85"/>
</g>
<path d="M311.6 372.2 L317.4 372.2 L332 380.6 L332 383.9 L306 383.9 L307.4 379.9 Z" fill="none" stroke="#161616" stroke-width="1.3"/>
<clipPath id="b2"><path d="M319.3 372.2 L337.2 372.2 L337.2 380 L333.4 380 Z"/></clipPath>
<g clip-path="url(#b2)">
<path d="M318 380.6L318.4 381M318 377.4L321.6 381M318 374.2L324.8 381M318.5 371.5L328 381M321.7 371.5L331.2 381M324.9 371.5L334.4 381M328.1 371.5L337.6 381M331.3 371.5L338 378.2M334.5 371.5L338 375" fill="none" stroke="#262626" stroke-width="0.95"/>
</g>
<path d="M319.3 372.2 L337.2 372.2 L337.2 380 L333.4 380 Z" fill="none" stroke="#161616" stroke-width="1.3"/>
<line x1="339.3" y1="370.6" x2="339.3" y2="383.9" stroke="#262626" stroke-width="0.95"/>
<line x1="345" y1="370.6" x2="345" y2="383.9" stroke="#262626" stroke-width="0.95"/>
<path d="M282 386.5L284.4 384.1M288 386.5L290.4 384.1M294 386.5L296.4 384.1M300 386.5L302.4 384.1M306 386.5L308.4 384.1M312 386.5L314.4 384.1M318 386.5L320.4 384.1M324 386.5L326.4 384.1M330 386.5L332.4 384.1M336 386.5L338.4 384.1M342 386.5L344.4 384.1" fill="none" stroke="#2c2c2c" stroke-width="0.85"/>
<line x1="280" y1="384" x2="350" y2="384" stroke="#161616" stroke-width="1.3"/>
<line x1="280" y1="386.5" x2="350" y2="386.5" stroke="#262626" stroke-width="0.95"/>
</g>
<circle cx="315.9" cy="379.8" r="31.9" fill="none" stroke="#262626" stroke-width="0.95"/>
<line x1="305.4" y1="386.5" x2="305.4" y2="403.6" stroke="#2c2c2c" stroke-width="0.85"/>
<line x1="331.7" y1="386.5" x2="331.7" y2="403.6" stroke="#2c2c2c" stroke-width="0.85"/>
<line x1="305.4" y1="399.9" x2="331.7" y2="399.9" stroke="#2c2c2c" stroke-width="0.85"/>
<polygon points="305.4,399.9 310.4,399 310.4,400.8" fill="#3a3a3a"/>
<polygon points="331.7,399.9 326.7,400.8 326.7,399" fill="#3a3a3a"/>
<text x="318.6" y="397.2" font-size="9.6" fill="#4a4a4a" text-anchor="middle" textLength="8.4" lengthAdjust="spacingAndGlyphs">l0</text>
<text x="177.4" y="426.8" font-size="10" fill="#333" text-anchor="middle" font-family="'Liberation Serif', serif">I</text>
<text x="180" y="426.67" font-size="8.8" fill="#202020" textLength="8.4" lengthAdjust="spacingAndGlyphs">型</text>
<text x="311.4" y="426.8" font-size="10" fill="#333" text-anchor="middle" textLength="6.6" lengthAdjust="spacingAndGlyphs" font-family="'Liberation Serif', serif">II</text>
<text x="316" y="426.67" font-size="8.8" fill="#202020" textLength="8.4" lengthAdjust="spacingAndGlyphs">型</text>
<text x="225" y="443.03" font-size="11.2" fill="#2a2a2a" textLength="47" lengthAdjust="spacingAndGlyphs">密封圈结构</text>
<line x1="220.8" y1="448.3" x2="276.6" y2="448.3" stroke="#222" stroke-width="1.5"/>
<line x1="220.8" y1="450.7" x2="276.6" y2="450.7" stroke="#2c2c2c" stroke-width="0.85"/>
</g>
<g transform="translate(450 56.4) matrix(1,-0.0042,0,1,0,0)">
<line x1="0" y1="20" x2="217.3" y2="20" stroke="#2c2c2c" stroke-width="0.85"/>
<line x1="0" y1="40" x2="217.3" y2="40" stroke="#2c2c2c" stroke-width="0.85"/>
<line x1="23.75" y1="59.25" x2="217.3" y2="59.25" stroke="#2c2c2c" stroke-width="0.85"/>
<line x1="0" y1="78.75" x2="217.3" y2="78.75" stroke="#2c2c2c" stroke-width="0.85"/>
<line x1="0" y1="98.75" x2="217.3" y2="98.75" stroke="#2c2c2c" stroke-width="0.85"/>
<line x1="0" y1="118.25" x2="217.3" y2="118.25" stroke="#2c2c2c" stroke-width="0.85"/>
<line x1="23.75" y1="0" x2="23.75" y2="137.5" stroke="#2c2c2c" stroke-width="0.85"/>
<line x1="85" y1="0" x2="85" y2="137.5" stroke="#2c2c2c" stroke-width="0.85"/>
<line x1="112.5" y1="0" x2="112.5" y2="137.5" stroke="#2c2c2c" stroke-width="0.85"/>
<line x1="157" y1="0" x2="157" y2="137.5" stroke="#2c2c2c" stroke-width="0.85"/>
<rect x="0" y="0" width="217.3" height="137.5" fill="none" stroke="#1c1c1c" stroke-width="1.3"/>
<text x="2.5" y="14.78" font-size="11.6" fill="#242424" textLength="18.8" lengthAdjust="spacingAndGlyphs">序号</text>
<text x="38.8" y="14.88" font-size="11.6" fill="#242424" textLength="18.8" lengthAdjust="spacingAndGlyphs">名称</text>
<text x="88.3" y="15.08" font-size="11.6" fill="#242424" textLength="18.1" lengthAdjust="spacingAndGlyphs">数量</text>
<text x="127" y="15.18" font-size="11.6" fill="#242424" textLength="18.2" lengthAdjust="spacingAndGlyphs">材料</text>
<text x="175" y="15.38" font-size="11.6" fill="#242424" textLength="18.8" lengthAdjust="spacingAndGlyphs">备注</text>
<text x="12" y="33.8" font-size="9.2" fill="#5a5a5a" text-anchor="middle">1</text>
<text x="12" y="64.4" font-size="9.2" fill="#5a5a5a" text-anchor="middle">2</text>
<text x="12" y="93.2" font-size="9.2" fill="#5a5a5a" text-anchor="middle">3</text>
<text x="12" y="113" font-size="9.2" fill="#5a5a5a" text-anchor="middle">4</text>
<text x="12" y="132.6" font-size="9.2" fill="#5a5a5a" text-anchor="middle">5</text>
<text x="31.3" y="33.77" font-size="8.8" fill="#222" textLength="30.08" lengthAdjust="spacingAndGlyphs">法兰套管</text>
<text x="31.3" y="53.17" font-size="8.8" fill="#222" textLength="23.31" lengthAdjust="spacingAndGlyphs">密封圈</text>
<text x="66.8" y="53.4" font-size="10" fill="#333" text-anchor="middle" font-family="'Liberation Serif', serif">I</text>
<text x="69.4" y="53.17" font-size="8.8" fill="#222" textLength="8.2" lengthAdjust="spacingAndGlyphs">型</text>
<text x="31.3" y="72.37" font-size="8.8" fill="#222" textLength="23.31" lengthAdjust="spacingAndGlyphs">密封圈</text>
<text x="68.2" y="72.6" font-size="10" fill="#333" text-anchor="middle" textLength="6.8" lengthAdjust="spacingAndGlyphs" font-family="'Liberation Serif', serif">II</text>
<text x="72.4" y="72.37" font-size="8.8" fill="#222" textLength="8.2" lengthAdjust="spacingAndGlyphs">型</text>
<text x="31.3" y="93.17" font-size="8.8" fill="#222" textLength="30.08" lengthAdjust="spacingAndGlyphs">法兰压盖</text>
<text x="31.3" y="112.97" font-size="8.8" fill="#222" textLength="15.1" lengthAdjust="spacingAndGlyphs">螺柱</text>
<text x="31.3" y="132.57" font-size="8.8" fill="#222" textLength="15.1" lengthAdjust="spacingAndGlyphs">螺母</text>
<text x="98.8" y="33.8" font-size="9.2" fill="#5a5a5a" text-anchor="middle">1</text>
<text x="98.8" y="53.2" font-size="9.2" fill="#5a5a5a" text-anchor="middle">2</text>
<text x="98.8" y="72.4" font-size="9.2" fill="#5a5a5a" text-anchor="middle">1</text>
<text x="98.8" y="93.2" font-size="9.2" fill="#5a5a5a" text-anchor="middle">1</text>
<text x="98.8" y="113.6" font-size="9.2" fill="#5a5a5a" text-anchor="middle">n</text>
<text x="98.8" y="133.2" font-size="9.2" fill="#5a5a5a" text-anchor="middle">n</text>
<text x="119.3" y="34" font-size="9.2" fill="#5a5a5a" text-anchor="start" textLength="30" lengthAdjust="spacingAndGlyphs">Q235-A</text>
<text x="120" y="53.17" font-size="8.8" fill="#222" textLength="15" lengthAdjust="spacingAndGlyphs">橡胶</text>
<text x="120" y="72.37" font-size="8.8" fill="#222" textLength="15" lengthAdjust="spacingAndGlyphs">橡胶</text>
<text x="119.3" y="93.4" font-size="9.2" fill="#5a5a5a" text-anchor="start" textLength="30" lengthAdjust="spacingAndGlyphs">Q235-A</text>
<text x="119.3" y="113.2" font-size="9.2" fill="#5a5a5a" text-anchor="start" textLength="12" lengthAdjust="spacingAndGlyphs">4.8</text>
<text x="119.3" y="132.8" font-size="9.2" fill="#5a5a5a" text-anchor="start">4</text>
<text x="160.8" y="32.95" font-size="8.2" fill="#222" textLength="20.61" lengthAdjust="spacingAndGlyphs">焊接件</text>
<text x="160.8" y="92.35" font-size="8.2" fill="#222" textLength="20.61" lengthAdjust="spacingAndGlyphs">焊接件</text>
<text x="160" y="112.6" font-size="9.2" fill="#5a5a5a" text-anchor="start" textLength="45" lengthAdjust="spacingAndGlyphs">GB897-88A</text>
<text x="160" y="131.4" font-size="9.2" fill="#5a5a5a" text-anchor="start" textLength="51" lengthAdjust="spacingAndGlyphs">GB/T41-2000</text>
<text x="95" y="-17.3" font-size="11.4" fill="#2a2a2a" textLength="27.6" lengthAdjust="spacingAndGlyphs">材料表</text>
<line x1="92.5" y1="-11.6" x2="127.5" y2="-11.6" stroke="#222" stroke-width="1.5"/>
<line x1="92.5" y1="-9.5" x2="127.5" y2="-9.5" stroke="#2c2c2c" stroke-width="0.85"/>
</g>
<g transform="translate(442 0) matrix(1,-0.0055,0,1,0,0)">
<text x="-0.8" y="246.83" font-size="11.2" fill="#2c2c2c" textLength="18.4" lengthAdjust="spacingAndGlyphs">说明</text>
<text x="19.6" y="246.4" font-size="9.5" fill="#555" text-anchor="middle">:</text>
<text x="0.8" y="268" font-size="11" fill="#505050" text-anchor="start" textLength="5.8" lengthAdjust="spacingAndGlyphs">1.</text>
<g>
<text x="9.9" y="267.55" font-size="9.3" fill="#222" textLength="82.61" lengthAdjust="spacingAndGlyphs">当迎水面为腐蚀性介质时</text>
<g>
<text x="98.49" y="267.36" font-size="8.56" fill="#222" text-anchor="middle" font-weight="bold">,</text>
</g>
<text x="104.2" y="267.55" font-size="9.3" fill="#222" textLength="93.84" lengthAdjust="spacingAndGlyphs">可采用封堵材料将缝隙封堵</text>
<g>
<text x="202.07" y="267.36" font-size="8.56" fill="#222" text-anchor="middle" font-weight="bold">,</text>
</g>
<text x="207.4" y="267.55" font-size="9.3" fill="#222" textLength="15.5" lengthAdjust="spacingAndGlyphs">做法</text>
</g>
<g>
<text x="9.9" y="284.55" font-size="9.3" fill="#222" textLength="34.4" lengthAdjust="spacingAndGlyphs">见本图集</text>
<g>
<text x="46" y="283.43" font-size="7.91" fill="#222" text-anchor="middle" font-weight="bold">“</text>
</g>
<text x="47.6" y="284.55" font-size="9.3" fill="#222" textLength="44.88" lengthAdjust="spacingAndGlyphs">柔性防水套管</text>
<g>
<text x="95.9" y="284.51" font-size="10.04" fill="#3c3c3c" text-anchor="middle">(</text>
</g>
<g>
<text x="102.3" y="285.38" font-size="11.6" fill="#3c3c3c" text-anchor="middle">B</text>
</g>
<text x="106.4" y="284.55" font-size="9.3" fill="#222" textLength="7.8" lengthAdjust="spacingAndGlyphs">型</text>
<g>
<text x="116.6" y="284.51" font-size="10.04" fill="#3c3c3c" text-anchor="middle">)</text>
</g>
<text x="122.4" y="284.55" font-size="9.3" fill="#222" textLength="21.51" lengthAdjust="spacingAndGlyphs">安装图</text>
<g>
<text x="145.8" y="283.43" font-size="7.91" fill="#222" text-anchor="middle" font-weight="bold">”</text>
</g>
<g>
<text x="152.02" y="284.36" font-size="10.23" fill="#222" text-anchor="middle" font-weight="bold">.</text>
</g>
</g>
<text x="-0.4" y="301.6" font-size="11" fill="#505050" text-anchor="start" textLength="7.4" lengthAdjust="spacingAndGlyphs">2.</text>
<g>
<text x="9" y="301.25" font-size="9.3" fill="#222" textLength="108.36" lengthAdjust="spacingAndGlyphs">套管穿墙处如遇非混凝土墙壁时</text>
<g>
<text x="118.63" y="301.06" font-size="8.56" fill="#222" text-anchor="middle" font-weight="bold">,</text>
</g>
<text x="120.7" y="301.25" font-size="9.3" fill="#222" textLength="29.08" lengthAdjust="spacingAndGlyphs">应局部改</text>
<text x="153.6" y="301.25" font-size="9.3" fill="#222" textLength="46.38" lengthAdjust="spacingAndGlyphs">用混凝土墙壁</text>
<g>
<text x="201.23" y="301.06" font-size="8.56" fill="#222" text-anchor="middle" font-weight="bold">,</text>
</g>
<text x="203.2" y="301.25" font-size="9.3" fill="#222" textLength="14.6" lengthAdjust="spacingAndGlyphs">其浇</text>
</g>
<g>
<text x="9" y="318.75" font-size="9.3" fill="#222" textLength="69.12" lengthAdjust="spacingAndGlyphs">注范围应比翼环直径</text>
<g>
<text x="82.6" y="318.71" font-size="10.04" fill="#3c3c3c" text-anchor="middle">(</text>
</g>
<g>
<text x="92.3" y="319.58" font-size="11.6" fill="#3c3c3c" text-anchor="middle" textLength="10.07" lengthAdjust="spacingAndGlyphs">D5</text>
</g>
<g>
<text x="101.8" y="318.71" font-size="10.04" fill="#3c3c3c" text-anchor="middle">)</text>
</g>
<text x="106.6" y="318.75" font-size="9.3" fill="#222" textLength="7.4" lengthAdjust="spacingAndGlyphs">大</text>
<g>
<text x="122.1" y="319.58" font-size="11.6" fill="#3c3c3c" text-anchor="middle" textLength="13.87" lengthAdjust="spacingAndGlyphs">200</text>
</g>
<g>
<text x="133.33" y="318.56" font-size="8.56" fill="#222" text-anchor="middle" font-weight="bold">,</text>
</g>
<text x="138.6" y="318.75" font-size="9.3" fill="#222" textLength="78.4" lengthAdjust="spacingAndGlyphs">而且必须将套管一次浇</text>
</g>
<g>
<text x="9" y="336.35" font-size="9.3" fill="#222" textLength="30.48" lengthAdjust="spacingAndGlyphs">固于墙内</text>
<g>
<text x="42.12" y="336.16" font-size="10.23" fill="#222" text-anchor="middle" font-weight="bold">.</text>
</g>
</g>
<text x="-0.4" y="355.2" font-size="11" fill="#505050" text-anchor="start" textLength="7.4" lengthAdjust="spacingAndGlyphs">3.</text>
<g>
<text x="9" y="354.85" font-size="9.3" fill="#222" textLength="94.2" lengthAdjust="spacingAndGlyphs">穿管处混凝土墙厚应不小于</text>
<g>
<text x="110.6" y="355.68" font-size="11.6" fill="#3c3c3c" text-anchor="middle" textLength="12.92" lengthAdjust="spacingAndGlyphs">300</text>
</g>
<g>
<text x="118.83" y="354.66" font-size="8.56" fill="#222" text-anchor="middle" font-weight="bold">,</text>
</g>
<text x="121.9" y="354.85" font-size="9.3" fill="#222" textLength="93.36" lengthAdjust="spacingAndGlyphs">否则应使墙壁一边加厚或两</text>
</g>
<g>
<text x="8.5" y="371.95" font-size="9.3" fill="#222" textLength="21.69" lengthAdjust="spacingAndGlyphs">边加厚</text>
<g>
<text x="34.12" y="371.76" font-size="10.23" fill="#222" text-anchor="middle" font-weight="bold">.</text>
</g>
<text x="40.2" y="371.95" font-size="9.3" fill="#222" textLength="78" lengthAdjust="spacingAndGlyphs">加厚部分的直径至少为</text>
<g>
<text x="134.2" y="372.78" font-size="11.6" fill="#3c3c3c" text-anchor="middle" textLength="29.64" lengthAdjust="spacingAndGlyphs">D5+200</text>
</g>
<g>
<text x="154.32" y="371.76" font-size="10.23" fill="#222" text-anchor="middle" font-weight="bold">.</text>
</g>
</g>
<text x="-0.4" y="389.6" font-size="11" fill="#505050" text-anchor="start" textLength="7.4" lengthAdjust="spacingAndGlyphs">4.</text>
<g>
<text x="8.5" y="389.25" font-size="9.3" fill="#222" textLength="46.68" lengthAdjust="spacingAndGlyphs">套管的重量以</text>
<g>
<text x="57.7" y="390.08" font-size="11.6" fill="#3c3c3c" text-anchor="middle">L</text>
</g>
<g>
<text x="63.5" y="390.08" font-size="11.6" fill="#3c3c3c" text-anchor="middle">=</text>
</g>
<g>
<text x="74.55" y="390.08" font-size="11.6" fill="#3c3c3c" text-anchor="middle" textLength="14.72" lengthAdjust="spacingAndGlyphs">300</text>
</g>
<text x="83.8" y="389.25" font-size="9.3" fill="#222" textLength="13.8" lengthAdjust="spacingAndGlyphs">计算</text>
<g>
<text x="101.81" y="389.06" font-size="8.56" fill="#222" text-anchor="middle" font-weight="bold">,</text>
</g>
<text x="107.6" y="389.25" font-size="9.3" fill="#222" textLength="38.3" lengthAdjust="spacingAndGlyphs">如墙厚大于</text>
<g>
<text x="154" y="390.08" font-size="11.6" fill="#3c3c3c" text-anchor="middle" textLength="14.63" lengthAdjust="spacingAndGlyphs">300</text>
</g>
<text x="162.4" y="389.25" font-size="9.3" fill="#222" textLength="6.8" lengthAdjust="spacingAndGlyphs">时</text>
<g>
<text x="172.81" y="389.06" font-size="8.56" fill="#222" text-anchor="middle" font-weight="bold">,</text>
</g>
<text x="179" y="389.25" font-size="9.3" fill="#222" textLength="37.1" lengthAdjust="spacingAndGlyphs">应另行计算</text>
<g>
<text x="219.72" y="389.06" font-size="10.23" fill="#222" text-anchor="middle" font-weight="bold">.</text>
</g>
</g>
</g>
<g transform="translate(434 430) matrix(1,-0.0055,0,1,0,0)">
<line x1="0" y1="0" x2="263" y2="0" stroke="#1c1c1c" stroke-width="1.25"/>
<line x1="0" y1="0" x2="0" y2="47.2" stroke="#1c1c1c" stroke-width="1.25"/>
<line x1="0" y1="33.75" x2="263" y2="33.75" stroke="#262626" stroke-width="0.95"/>
<line x1="177.5" y1="0" x2="177.5" y2="48.2" stroke="#1c1c1c" stroke-width="1.5"/>
<line x1="206" y1="0" x2="206" y2="48.2" stroke="#262626" stroke-width="0.95"/>
<line x1="17.75" y1="33.75" x2="17.75" y2="47.6" stroke="#262626" stroke-width="0.95"/>
<line x1="59.25" y1="33.75" x2="59.25" y2="47.6" stroke="#262626" stroke-width="0.95"/>
<line x1="76.5" y1="33.75" x2="76.5" y2="47.6" stroke="#262626" stroke-width="0.95"/>
<line x1="119.25" y1="33.75" x2="119.25" y2="47.6" stroke="#262626" stroke-width="0.95"/>
<line x1="136" y1="33.75" x2="136" y2="47.6" stroke="#262626" stroke-width="0.95"/>
<g>
<text x="33.5" y="21.53" font-size="9.8" fill="#222" textLength="55.74" lengthAdjust="spacingAndGlyphs">柔性防水套管</text>
<text x="92.98" y="21.49" font-size="10.58" fill="#444" text-anchor="middle">(</text>
<text x="100.04" y="21.46" font-size="9.6" fill="#444" text-anchor="middle">A</text>
<text x="103.39" y="21.53" font-size="9.8" fill="#222" textLength="9.29" lengthAdjust="spacingAndGlyphs">型</text>
<text x="116.4" y="21.49" font-size="10.58" fill="#444" text-anchor="middle">)</text>
<text x="120.12" y="21.53" font-size="9.8" fill="#222" textLength="27.87" lengthAdjust="spacingAndGlyphs">安装图</text>
</g>
<text x="182" y="19.77" font-size="8.8" fill="#222" textLength="22.59" lengthAdjust="spacingAndGlyphs">图集号</text>
<text x="235.4" y="21.2" font-size="11.2" fill="#858585" text-anchor="middle" textLength="33.5" lengthAdjust="spacingAndGlyphs">02S404</text>
<text x="1.6" y="43.77" font-size="8.8" fill="#222" textLength="15" lengthAdjust="spacingAndGlyphs">审核</text>
<text x="60.4" y="43.97" font-size="8.8" fill="#222" textLength="15.4" lengthAdjust="spacingAndGlyphs">校对</text>
<text x="120.8" y="44.17" font-size="8.8" fill="#222" textLength="14.4" lengthAdjust="spacingAndGlyphs">设计</text>
<text x="188.4" y="44.22" font-size="8.4" fill="#333" textLength="8" lengthAdjust="spacingAndGlyphs">页</text>
<text x="235.4" y="45.4" font-size="10.4" fill="#858585" text-anchor="middle">5</text>
<g transform="translate(20 46) skewX(-14) scale(0.94 0.9) translate(-19.6 -46)">
<path d="M20 38.5 L25 37.2 M22.6 34.4 L21.8 49.5 M19.6 43.6 C21.5 42 23.5 40 25 38.2 M27.4 35.6 L26.6 45 M25 40 L30.4 38.6 M26 45.4 L31 43 M32.8 36.4 L34 37.6 M32 40 L33.4 41 M31.8 45.6 L34.2 42 M36.6 35.4 L35.6 38.2 L41.6 37 M37.4 39.4 L36.4 44 L41 43.2 L41.6 39 Z M36.2 41.6 L41.8 40.8 M43.8 36.6 L45 37.8 M43 40 L44.6 41 M43 45.4 L45.2 42.2 M47 36.2 L54 35 M50.6 33.6 L49.6 39.4 C49 42.2 47.6 44.2 46 45.4 M49.8 39.6 L54.4 38.8 C54 42 52.8 44 51 45.6 M51.6 37.4 L55.6 45 L57.6 43 M38 47.2 C44 46 52 45.6 58.5 45.8" fill="none" stroke="#0c0c0c" stroke-width="1.0" stroke-linecap="round" stroke-linejoin="round"/>
</g>
<g transform="translate(79.5 46) skewX(-14) scale(0.94 0.9) translate(-79.6 -46)">
<path d="M80.6 36.4 L82 37.6 M79.8 40.2 L81.4 41.2 M79.6 46 L82.4 42 M84.8 35.6 L83.6 49.6 M84.8 36 L89.4 35.2 L88.8 41.2 L84.4 42 M92 36.4 L100 35.4 M91.4 38.8 L100.8 37.8 M90.4 41.4 L101.6 40.2 M96.2 33.8 C95.4 38 93.2 43 90 46 M96 38.8 C97.6 41.6 99.6 43.6 102 44.8 M94 42.8 L98.6 42.2 L98 46.8 L93.8 47 Z M104 37.2 L103.4 44 L106.6 43.4 L107 36.8 Z M103.8 40.4 L106.8 40 M109.4 35.4 L108.6 44.4 C108.2 46.2 107.4 47.4 106.4 48.2 M109.4 35.4 L114.6 34.6 L114.4 47.6 L112.8 46.2 M109.2 38.6 L114.4 38 M108.9 41.8 L114.4 41.2" fill="none" stroke="#0c0c0c" stroke-width="1.0" stroke-linecap="round" stroke-linejoin="round"/>
</g>
<g transform="translate(138.5 46) skewX(-12) scale(0.94 0.9) translate(-138.4 -46)">
<path d="M139.4 35.8 L141 37 M138.4 39.4 L140.8 39 L140.4 45.6 L142.6 43.6 M139.6 34.5 L139.2 48.5 M143.8 34.8 L143.2 37.2 L149 36.2 L148.2 38.8 M145 38.4 L144.2 42.4 C144 45 145 45.8 146.8 45.6 L149.4 45 L150 42.6 M152 38.4 C153 36.4 155.2 35.8 155.6 37.6 C156 39.6 153.4 42.4 151.6 45 L157 44.2 M159 38.6 C158 41.2 157.8 44 159 44.8 C160.6 45.4 162 42.2 162.4 39 L163.4 45 M165.2 38 L164.8 45.2 M165.2 40.2 C166.4 38.4 168.4 38.4 168.4 40.2 L168 45 M170.4 36.4 L177 35.4 M169.4 39 L177.6 38 M173.6 34 L173 39.8 M170.6 41.6 L176.4 40.8 L175.8 43.4 M169 46 C172 44.4 175.4 44.6 178.2 46.2 M171.4 43.4 L172 47.4" fill="none" stroke="#0c0c0c" stroke-width="1.0" stroke-linecap="round" stroke-linejoin="round"/>
</g>
</g>
<path d="M32.6 14.4 L176 12.7 L360 11.7 L540 10.9 L696.9 10.6 L696.9 476 L360 477.5 L32.9 478.8 Z" fill="none" stroke="#3c3c3c" stroke-width="1.75"/>
</svg>
</body></html>
